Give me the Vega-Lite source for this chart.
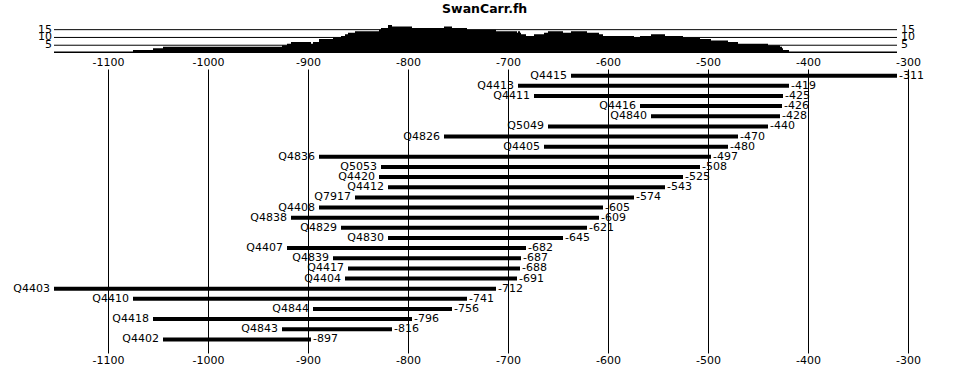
{
  "$schema": "https://vega.github.io/schema/vega-lite/v6.json",
  "background": "white",
  "padding": {"left": 13, "top": 3, "right": 5, "bottom": 5},
  "title": {"text": "SwanCarr.fh", "font": "DejaVu Sans", "fontSize": 12.5, "fontWeight": "bold", "color": "black", "anchor": "middle", "offset": 8, "dx": 16},
  "bounds": "flush",
  "spacing": 16,
  "config": {"view": {"stroke": null}, "text": {"font": "DejaVu Sans", "fontSize": 11, "color": "black"}},
  "datasets": {
    "series": [
      {"name": "Q4415", "start": -637, "end": -311},
      {"name": "Q4413", "start": -690, "end": -419},
      {"name": "Q4411", "start": -674, "end": -425},
      {"name": "Q4416", "start": -568, "end": -426},
      {"name": "Q4840", "start": -557, "end": -428},
      {"name": "Q5049", "start": -660, "end": -440},
      {"name": "Q4826", "start": -764, "end": -470},
      {"name": "Q4405", "start": -664, "end": -480},
      {"name": "Q4836", "start": -889, "end": -497},
      {"name": "Q5053", "start": -827, "end": -508},
      {"name": "Q4420", "start": -829, "end": -525},
      {"name": "Q4412", "start": -820, "end": -543},
      {"name": "Q7917", "start": -853, "end": -574},
      {"name": "Q4408", "start": -889, "end": -605},
      {"name": "Q4838", "start": -917, "end": -609},
      {"name": "Q4829", "start": -867, "end": -621},
      {"name": "Q4830", "start": -820, "end": -645},
      {"name": "Q4407", "start": -921, "end": -682},
      {"name": "Q4839", "start": -875, "end": -687},
      {"name": "Q4417", "start": -860, "end": -688},
      {"name": "Q4404", "start": -863, "end": -691},
      {"name": "Q4403", "start": -1154, "end": -712},
      {"name": "Q4410", "start": -1075, "end": -741},
      {"name": "Q4844", "start": -895, "end": -756},
      {"name": "Q4418", "start": -1055, "end": -796},
      {"name": "Q4843", "start": -926, "end": -816},
      {"name": "Q4402", "start": -1045, "end": -897}
    ],
    "depth": [
      {"year": -1154, "n": 1}, {"year": -1075, "n": 2}, {"year": -1055, "n": 3}, {"year": -1045, "n": 4},
      {"year": -926, "n": 5}, {"year": -921, "n": 6}, {"year": -917, "n": 7}, {"year": -897, "n": 6},
      {"year": -895, "n": 7}, {"year": -889, "n": 9}, {"year": -875, "n": 10}, {"year": -867, "n": 11},
      {"year": -863, "n": 12}, {"year": -860, "n": 13}, {"year": -853, "n": 14}, {"year": -829, "n": 15},
      {"year": -827, "n": 16}, {"year": -820, "n": 18}, {"year": -816, "n": 17}, {"year": -796, "n": 16},
      {"year": -764, "n": 17}, {"year": -756, "n": 16}, {"year": -741, "n": 15}, {"year": -712, "n": 14},
      {"year": -691, "n": 13}, {"year": -690, "n": 14}, {"year": -688, "n": 13}, {"year": -687, "n": 12},
      {"year": -682, "n": 11}, {"year": -674, "n": 12}, {"year": -664, "n": 13}, {"year": -660, "n": 14},
      {"year": -645, "n": 13}, {"year": -637, "n": 14}, {"year": -621, "n": 13}, {"year": -609, "n": 12},
      {"year": -605, "n": 11}, {"year": -574, "n": 10}, {"year": -568, "n": 11}, {"year": -557, "n": 12},
      {"year": -543, "n": 11}, {"year": -525, "n": 10}, {"year": -508, "n": 9}, {"year": -497, "n": 8},
      {"year": -480, "n": 7}, {"year": -470, "n": 6}, {"year": -440, "n": 5}, {"year": -428, "n": 4},
      {"year": -426, "n": 3}, {"year": -425, "n": 2}, {"year": -419, "n": 1}, {"year": -311, "n": 0}
    ],
    "levels": [{"level": 5, "label": "5"}, {"level": 10, "label": "10"}, {"level": 15, "label": "15"}]
  },
  "vconcat": [
    {
      "width": 855,
      "height": 28,
      "layer": [
        {
          "data": {"name": "depth"},
          "mark": {"type": "area", "interpolate": "step-after", "color": "black"},
          "encoding": {
            "x": {"field": "year", "type": "quantitative", "scale": {"domain": [-1155, -300], "nice": false, "zero": false}, "axis": null},
            "y": {"field": "n", "type": "quantitative", "scale": {"domain": [0, 18], "nice": false}, "axis": null}
          }
        },
        {
          "data": {"name": "levels"},
          "mark": {"type": "rule", "color": "black", "strokeWidth": 1},
          "encoding": {
            "x": {"datum": -1154, "type": "quantitative"},
            "x2": {"datum": -311},
            "y": {"field": "level", "type": "quantitative"}
          }
        },
        {
          "data": {"name": "levels"},
          "mark": {"type": "text", "align": "right", "baseline": "middle", "fontSize": 11},
          "encoding": {
            "x": {"datum": -1156, "type": "quantitative"},
            "y": {"field": "level", "type": "quantitative"},
            "text": {"field": "label"}
          }
        },
        {
          "data": {"name": "levels"},
          "mark": {"type": "text", "align": "left", "baseline": "middle", "fontSize": 11},
          "encoding": {
            "x": {"datum": -307, "type": "quantitative"},
            "y": {"field": "level", "type": "quantitative"},
            "text": {"field": "label"}
          }
        }
      ]
    },
    {
      "width": 855,
      "height": 284,
      "data": {"name": "series"},
      "resolve": {"axis": {"x": "independent"}},
      "layer": [
        {
          "mark": {"type": "rule", "color": "black", "strokeWidth": 4, "strokeCap": "butt"},
          "encoding": {
            "x": {"field": "start", "type": "quantitative", "scale": {"domain": [-1155, -300], "nice": false, "zero": false},
              "axis": {"orient": "bottom", "title": null, "values": [-1100, -1000, -900, -800, -700, -600, -500, -400, -300], "labelExpr": "toString(datum.value)", "grid": true, "gridColor": "black", "gridOpacity": 1, "gridWidth": 1, "ticks": false, "domain": false, "labelFont": "DejaVu Sans", "labelFontSize": 11, "labelColor": "black", "labelPadding": 1, "labelFlush": false}},
            "x2": {"field": "end"},
            "y": {"field": "name", "type": "nominal", "sort": null, "scale": {"type": "point", "padding": 1.25, "align": 0.33}, "axis": null}
          }
        },
        {
          "mark": {"type": "text", "align": "right", "baseline": "middle", "dx": -4},
          "encoding": {
            "x": {"field": "start", "type": "quantitative",
              "axis": {"orient": "top", "title": null, "values": [-1100, -1000, -900, -800, -700, -600, -500, -400, -300], "labelExpr": "toString(datum.value)", "grid": false, "ticks": false, "domain": false, "labelFont": "DejaVu Sans", "labelFontSize": 11, "labelColor": "black", "labelPadding": 2, "labelFlush": false}},
            "y": {"field": "name", "type": "nominal", "sort": null},
            "text": {"field": "name"}
          }
        },
        {
          "mark": {"type": "text", "align": "left", "baseline": "middle", "dx": 2},
          "encoding": {
            "x": {"field": "end", "type": "quantitative", "axis": null},
            "y": {"field": "name", "type": "nominal", "sort": null},
            "text": {"field": "end", "type": "nominal"}
          }
        }
      ]
    }
  ]
}
